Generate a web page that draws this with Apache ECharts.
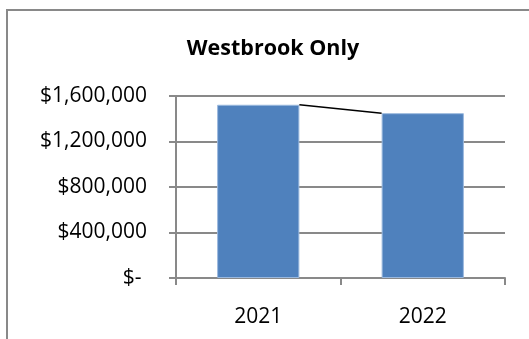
<!DOCTYPE html>
<html>
<head>
<meta charset="utf-8">
<style>
  html, body { margin: 0; padding: 0; background: #ffffff; }
  #chart { width: 529px; height: 339px; }
</style>
<script src="https://cdn.jsdelivr.net/npm/echarts@6/dist/echarts.min.js"></script>
</head>
<body>
<div id="chart"></div>
<script>
// Yearly totals for Westbrook
const years = ['2021', '2022'];
const totals = [1523000, 1449000];
const yTicks = [0, 400000, 800000, 1200000, 1600000];

const FONT = '"Open Sans", "Liberation Sans", sans-serif';
const GRAY = '#898989';

function money(v) {
  if (v === 0) return '$- ';
  return '$' + v.toLocaleString('en-US');
}

const chart = echarts.init(document.getElementById('chart'), null, { renderer: 'canvas' });

chart.setOption({
  animation: false,
  backgroundColor: '#ffffff',
  title: {
    text: 'Westbrook Only',
    left: 268,
    top: 33,
    textAlign: 'center',
    textStyle: { fontFamily: FONT, fontWeight: 'bold', fontSize: 21.5, color: '#000000' }
  },
  graphic: [{
    type: 'rect',
    shape: { x: 7, y: 10, width: 540, height: 350 },
    style: { fill: 'none', stroke: GRAY, lineWidth: 2 },
    silent: true
  }],
  grid: { left: 176, right: 24, top: 96, bottom: 61, containLabel: false },
  xAxis: {
    type: 'category',
    data: years,
    boundaryGap: true,
    axisLine: { show: true, lineStyle: { color: GRAY, width: 2 } },
    axisTick: { show: true, length: 7, lineStyle: { color: GRAY, width: 2 } },
    axisLabel: { fontFamily: FONT, fontSize: 21, color: '#000000', margin: 29 },
    splitLine: { show: false }
  },
  yAxis: {
    type: 'value',
    min: yTicks[0],
    max: yTicks[yTicks.length - 1],
    interval: yTicks[1] - yTicks[0],
    axisLine: { show: true, lineStyle: { color: GRAY, width: 2 } },
    axisTick: { show: true, length: 7, lineStyle: { color: GRAY, width: 2 } },
    axisLabel: { fontFamily: FONT, fontSize: 21, color: '#000000', margin: 29, formatter: money },
    splitLine: { show: true, lineStyle: { color: GRAY, width: 2 } }
  },
  series: [
    {
      type: 'bar',
      data: totals,
      barWidth: '50%',
      itemStyle: { color: '#4F81BD', borderColor: '#9bb9de', borderWidth: 1 }
    },
    {
      // series line joining the tops of neighbouring bars
      type: 'custom',
      data: [[0, totals[0], 1, totals[1]]],
      encode: { x: 0, y: 1 },
      z: 5,
      renderItem: function (params, api) {
        const a = api.coord([api.value(0), api.value(1)]);
        const b = api.coord([api.value(2), api.value(3)]);
        const half = api.size([1, 0])[0] * 0.25;
        return {
          type: 'line',
          shape: { x1: a[0] + half, y1: a[1], x2: b[0] - half, y2: b[1] },
          style: { stroke: '#000000', lineWidth: 1.6 }
        };
      }
    }
  ]
});
</script>
</body>
</html>
